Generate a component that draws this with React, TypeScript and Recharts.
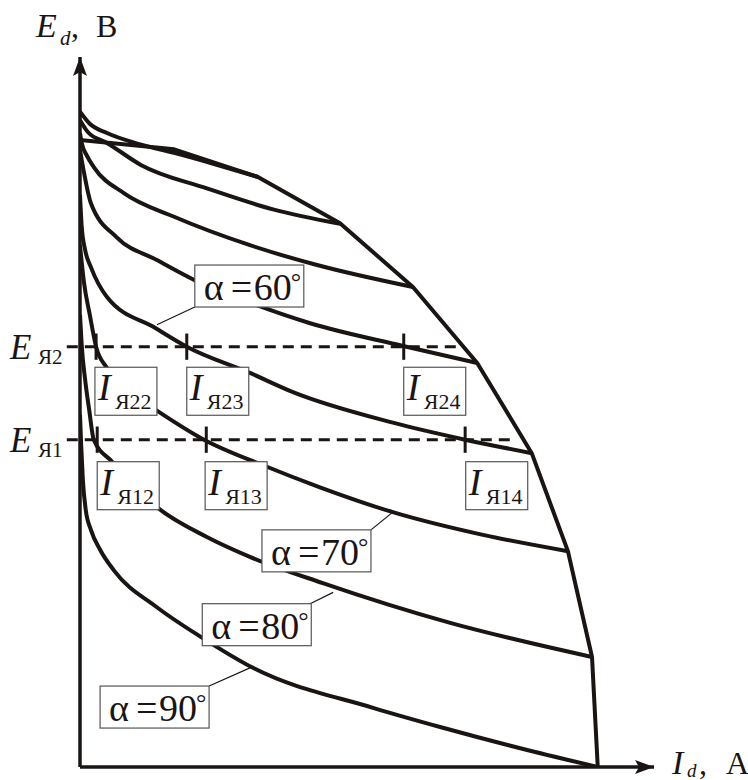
import { ComposedChart, Line, XAxis, YAxis, ReferenceLine, ReferenceDot } from 'recharts'

// Values in relative units: I_d runs 0..100 along the axis, E_d 0..100 up the axis.
// Each curve is a list of [I_d, E_d] pairs.
const curveTop = [[0, 92.3], [1.7, 90.6], [4.7, 89.3], [10.5, 87.7], [16.4, 86.5], [23.5, 84.9], [31.0, 83.1]]
const curve2 = [[0, 91.1], [1.4, 89.4], [4.7, 87.9], [10.6, 84.8], [22.1, 81.5], [33.8, 78.5], [45.3, 76.5]]
const curve3 = [[0, 89.3], [0.3, 87.9], [1.2, 86.1], [2.4, 84.5], [7.7, 80.8], [16.4, 77.5], [29.6, 73.5], [41.3, 70.7], [58.0, 67.6]]
const curve4 = [[0, 86.9], [0.7, 83.7], [1.9, 79.4], [6.4, 74.6], [13.4, 71.4], [19.9, 68.6], [29.6, 65.4], [40.1, 62.5], [56.3, 59.3], [69.2, 56.9]]
const alpha60 = [[0, 80.6], [0.3, 76.1], [0.9, 72.8], [1.9, 70.4], [4.7, 66.2], [13.2, 61.8], [18.6, 59.2], [29.6, 55.5], [37.1, 52.8], [54.5, 48.5], [67.1, 46.1], [78.7, 44.2]]
const alpha70 = [[0, 73.5], [0.7, 68.2], [1.7, 63.7], [2.8, 59.2], [4.7, 56.2], [8.7, 52.8], [13.2, 50.3], [21.6, 46.1], [31.9, 42.5], [41.8, 39.4], [54.5, 35.9], [70.2, 32.7], [85.0, 30.4]]
const alpha80 = [[0, 63.7], [0.3, 59.4], [0.9, 54.5], [1.6, 50.3], [2.4, 46.1], [5.6, 43.0], [13.4, 36.6], [22.1, 32.4], [29.6, 29.6], [42.3, 25.9], [64.5, 20.3], [89.2, 15.5]]
const alpha90 = [[0, 49.6], [0.2, 45.4], [0.5, 40.4], [1.0, 36.2], [1.9, 33.4], [3.5, 30.6], [5.9, 27.7], [13.4, 22.5], [21.1, 18.3], [30.3, 13.9], [51.2, 8.3], [62.9, 5.6], [77.9, 2.4], [90.2, 0]]
// limiting (boundary) characteristic, straight segments
const boundary = [[0, 88.3], [16.4, 87.0], [31.0, 83.1], [45.3, 76.6], [58.0, 67.6], [69.2, 56.9], [78.7, 44.2], [85.0, 30.4], [89.2, 15.5], [90.2, 0]]

const CURVES = [curveTop, curve2, curve3, curve4, alpha60, alpha70, alpha80, alpha90]

// armature EMF levels and the currents marked on them
const E_LEVELS = [59.2, 46.1]
const E_LEVEL_NAMES = ['Я2', 'Я1']
const E_LEVEL_ENDS = [66.6, 76.1]
const CURRENTS_E2 = [2.8, 18.6, 56.4]
const CURRENTS_E1 = [3.0, 22.0, 67.1]
const CURRENT_NAMES_E2 = ['Я22', 'Я23', 'Я24']
const CURRENT_NAMES_E1 = ['Я12', 'Я13', 'Я14']

// annotation anchors (box top-left) and leader ends
const CURRENT_BOXES_E2 = [[2.6, 56.3], [18.6, 56.3], [56.4, 56.3]]
const CURRENT_BOXES_E1 = [[3.0, 43.0], [21.8, 43.0], [67.2, 43.0]]
const ALPHA_TEXT = ['60', '70', '80', '90']
const ALPHA_BOXES = [[20.0, 70.7], [31.7, 33.4], [21.3, 23.0], [3.5, 11.4]]
const ALPHA_LEADERS = [
  [[20.0, 64.8], [13.4, 62.3]],
  [[50.7, 33.4], [54.5, 35.9]],
  [[40.1, 23.0], [44.1, 24.6]],
  [[22.5, 11.4], [30.0, 14.1]],
]

const INK = '#1a1513'
const FONT = '"Liberation Serif", "Times New Roman", serif'

const toPts = (c: number[][]) => c.map(([i, e]) => ({ i, e }))

function CurrentBox({ cx, cy, name }: { cx?: number; cy?: number; name: string }) {
  if (cx == null || cy == null) return null
  return (
    <g fontFamily={FONT} fill={INK}>
      <rect x={cx} y={cy} width={62} height={48} fill="#fff" stroke="#555" strokeWidth={1.2} />
      <text x={cx + 3} y={cy + 33} fontSize={38} fontStyle="italic">I</text>
      <text x={cx + 20} y={cy + 42} fontSize={22}>{name}</text>
    </g>
  )
}

function AlphaBox({ cx, cy, deg }: { cx?: number; cy?: number; deg: string }) {
  if (cx == null || cy == null) return null
  return (
    <g fontFamily={FONT} fill={INK}>
      <rect x={cx} y={cy} width={109} height={42} fill="#fff" stroke="#555" strokeWidth={1.2} />
      <text y={cy + 35} fontSize={38}>
        <tspan x={cx + 9}>α</tspan>
        <tspan x={cx + 36}>=</tspan>
        <tspan x={cx + 59}>{deg}</tspan>
      </text>
      <text x={cx + 96} y={cy + 25} fontSize={26}>°</text>
    </g>
  )
}

export default function App() {
  return (
    <div style={{ position: 'absolute', left: 0, top: 0, background: '#fff' }}>
      <ComposedChart width={748} height={780} margin={{ top: 57, right: 94, bottom: 13, left: 80 }}>
        <XAxis type="number" dataKey="i" domain={[0, 100]} allowDataOverflow hide />
        <YAxis type="number" domain={[0, 100]} allowDataOverflow hide />

        {/* axes */}
        <ReferenceLine segment={[{ x: 0, y: 0 }, { x: 100, y: 0 }]} stroke={INK} strokeWidth={3.5} ifOverflow="visible" />
        <ReferenceLine segment={[{ x: 0, y: 0 }, { x: 0, y: 100 }]} stroke={INK} strokeWidth={3.5} ifOverflow="visible" />

        {/* dashed EMF levels */}
        {E_LEVELS.map((e, k) => (
          <ReferenceLine
            key={'lvl' + k}
            segment={[{ x: -2.3, y: e }, { x: E_LEVEL_ENDS[k], y: e }]}
            stroke={INK}
            strokeWidth={3}
            strokeDasharray="11 7"
            ifOverflow="visible"
          />
        ))}
        {[CURRENTS_E2, CURRENTS_E1].map((row, k) =>
          row.map((i, j) => (
            <ReferenceLine
              key={'tick' + k + j}
              segment={[{ x: i, y: E_LEVELS[k] - 1.85 }, { x: i, y: E_LEVELS[k] + 1.85 }]}
              stroke={INK}
              strokeWidth={3}
              ifOverflow="visible"
            />
          )),
        )}

        {CURVES.map((c, k) => (
          <Line
            key={'c' + k}
            data={toPts(c)}
            dataKey="e"
            type="monotone"
            stroke={INK}
            strokeWidth={4}
            dot={false}
            activeDot={false}
            isAnimationActive={false}
          />
        ))}
        <Line
          data={toPts(boundary)}
          dataKey="e"
          type="linear"
          stroke={INK}
          strokeWidth={4}
          strokeLinejoin="round"
          dot={false}
          activeDot={false}
          isAnimationActive={false}
        />

        {ALPHA_LEADERS.map(([a, b], k) => (
          <ReferenceLine
            key={'lead' + k}
            segment={[{ x: a[0], y: a[1] }, { x: b[0], y: b[1] }]}
            stroke={INK}
            strokeWidth={1.2}
            ifOverflow="visible"
          />
        ))}

        {CURRENT_BOXES_E2.map(([x, y], k) => (
          <ReferenceDot key={'b2' + k} x={x} y={y} ifOverflow="visible" shape={(p: any) => <CurrentBox cx={p.cx} cy={p.cy} name={CURRENT_NAMES_E2[k]} />} />
        ))}
        {CURRENT_BOXES_E1.map(([x, y], k) => (
          <ReferenceDot key={'b1' + k} x={x} y={y} ifOverflow="visible" shape={(p: any) => <CurrentBox cx={p.cx} cy={p.cy} name={CURRENT_NAMES_E1[k]} />} />
        ))}
        {ALPHA_BOXES.map(([x, y], k) => (
          <ReferenceDot key={'a' + k} x={x} y={y} ifOverflow="visible" shape={(p: any) => <AlphaBox cx={p.cx} cy={p.cy} deg={ALPHA_TEXT[k]} />} />
        ))}

        {/* EMF level names left of the axis */}
        {E_LEVELS.map((e, k) => (
          <ReferenceDot
            key={'en' + k}
            x={-12.2}
            y={e}
            ifOverflow="visible"
            shape={(p: any) => (
              <g fontFamily={FONT} fill={INK}>
                <text x={p.cx} y={p.cy + 12} fontSize={35} fontStyle="italic">E</text>
                <text x={p.cx + 28} y={p.cy + 17} fontSize={21}>{E_LEVEL_NAMES[k]}</text>
              </g>
            )}
          />
        ))}

        {/* arrow heads and axis titles */}
        <ReferenceDot
          x={0}
          y={100}
          ifOverflow="visible"
          shape={(p: any) => (
            <g fontFamily={FONT} fill={INK}>
              <path d={`M${p.cx},${p.cy} L${p.cx - 7},${p.cy + 19} L${p.cx},${p.cy + 15} L${p.cx + 7},${p.cy + 19} Z`} />
              <text x={p.cx - 44} y={p.cy - 20} fontSize={34} fontStyle="italic">E</text>
              <text x={p.cx - 20} y={p.cy - 12} fontSize={21} fontStyle="italic">d</text>
              <text x={p.cx - 9} y={p.cy - 20} fontSize={32}>,</text>
              <text x={p.cx + 16} y={p.cy - 20} fontSize={32}>B</text>
            </g>
          )}
        />
        <ReferenceDot
          x={100}
          y={0}
          ifOverflow="visible"
          shape={(p: any) => (
            <g fontFamily={FONT} fill={INK}>
              <path d={`M${p.cx},${p.cy} L${p.cx - 19},${p.cy - 7} L${p.cx - 15},${p.cy} L${p.cx - 19},${p.cy + 7} Z`} />
              <text x={p.cx + 18} y={p.cy + 7} fontSize={34} fontStyle="italic">I</text>
              <text x={p.cx + 33} y={p.cy + 10} fontSize={19} fontStyle="italic">d</text>
              <text x={p.cx + 45} y={p.cy + 7} fontSize={32}>,</text>
              <text x={p.cx + 72} y={p.cy + 7} fontSize={32}>A</text>
            </g>
          )}
        />
      </ComposedChart>
    </div>
  )
}
